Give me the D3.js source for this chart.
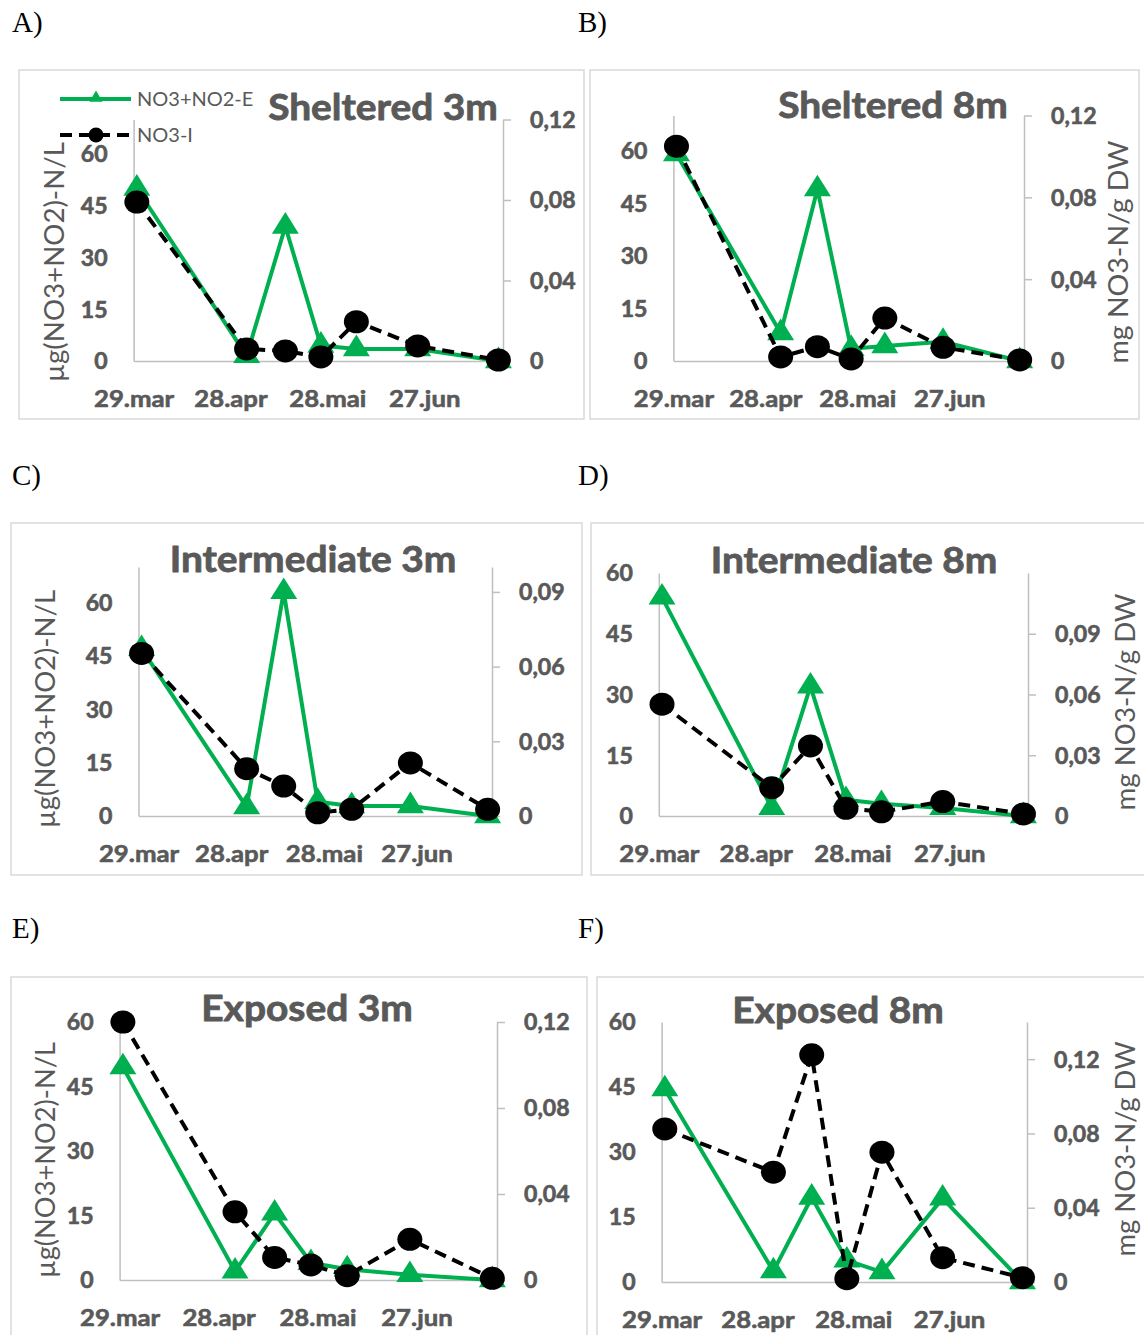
<!DOCTYPE html>
<html>
<head>
<meta charset="utf-8">
<script src="https://cdn.jsdelivr.net/npm/d3@7"></script>
<style>
  body { margin: 0; background: #fff; }
  svg { display: block; }
</style>
</head>
<body>
<svg id="fig" width="1144" height="1335"></svg>
<script>
// Sampling dates shared by all stations
const sampleDates = ["2016-03-30", "2016-05-03", "2016-05-15", "2016-05-26", "2016-06-06", "2016-06-25", "2016-07-20"];
const axisRange = ["2016-03-29T00:00", "2016-07-21T10:00"];
const tickDates = ["2016-03-29", "2016-04-28", "2016-05-28", "2016-06-27"];
const tickLabels = ["29.mar", "28.apr", "28.mai", "27.jun"];

// Series names
const seriesNames = ["NO3+NO2-E", "NO3-I"];
const panelTitles = ["Sheltered 3m", "Sheltered 8m", "Intermediate 3m", "Intermediate 8m", "Exposed 3m", "Exposed 8m"];
const panelLetters = ["A)", "B)", "C)", "D)", "E)", "F)"];
const leftAxisTitle = "µg(NO3+NO2)-N/L";
const rightAxisTitle = "mg NO3-N/g DW";

// NO3+NO2-E, µg N/L (left axis)
const extSheltered3m    = [50, 1.5, 39, 4.5, 3.5, 3.5, 0];
const extSheltered8m    = [59, 8, 49, 3.5, 4.3, 5.5, 0];
const extIntermediate3m = [47, 2.5, 63, 4, 2.8, 2.8, 0];
const extIntermediate8m = [54, 2, 32, 4, 3, 2, 0];
const extExposed3m      = [49.5, 2, 15.5, 4, 2.5, 1.2, 0];
const extExposed8m      = [44.5, 2.5, 19.5, 5, 2.3, 19.3, 0];

// NO3-I, mg NO3-N/g DW (right axis)
const intSheltered3m    = [0.079, 0.006, 0.005, 0.002, 0.0195, 0.0075, 0.0005];
const intSheltered8m    = [0.105, 0.002, 0.007, 0.001, 0.021, 0.0067, 0.0005];
const intIntermediate3m = [0.0653, 0.019, 0.012, 0.0013, 0.0027, 0.0213, 0.0027];
const intIntermediate8m = [0.0552, 0.014, 0.0346, 0.0038, 0.0021, 0.0071, 0.001];
const intExposed3m      = [0.12, 0.0317, 0.0105, 0.007, 0.002, 0.0189, 0.0008];
const intExposed8m      = [0.0824, 0.0591, 0.1223, 0.0018, 0.0699, 0.0131, 0.0023];

// Axis ranges and ticks
const leftTicks = [0, 15, 30, 45, 60];
const leftMaxima = [70, 70, 70, 60, 60, 60];
const rightMaxima = [0.12, 0.12, 0.1, 0.12, 0.12, 0.14];
const rightTicks04 = [0, 0.04, 0.08, 0.12];
const rightTicks03 = [0, 0.03, 0.06, 0.09];

const extSeries = [extSheltered3m, extSheltered8m, extIntermediate3m, extIntermediate8m, extExposed3m, extExposed8m];
const intSeries = [intSheltered3m, intSheltered8m, intIntermediate3m, intIntermediate8m, intExposed3m, intExposed8m];
const rightTickSets = [rightTicks04, rightTicks04, rightTicks03, rightTicks03, rightTicks04, rightTicks04];

// Page layout of the six chart boxes
const layout = [
  { frame: [19, 70, 584, 419],    plot: [133.6, 119.5, 503, 361], titleAt: [383, 120], letterAt: [12, 32],  leftTitle: { x: 64, cy: 262, len: 240 }, legend: true },
  { frame: [590, 70, 1139, 419],  plot: [673.4, 115.5, 1024, 361], titleAt: [893, 118], letterAt: [578, 32], rightTitle: { x: 1128, cy: 252, len: 223 } },
  { frame: [11, 523, 582, 875],   plot: [138.5, 567, 492, 816],   titleAt: [313, 572], letterAt: [12, 485], leftTitle: { x: 54.5, cy: 709, len: 238 } },
  { frame: [591, 523, 1150, 875], plot: [658.8, 573, 1028, 816],  titleAt: [854, 573], letterAt: [578, 485], rightTitle: { x: 1135, cy: 702, len: 217 } },
  { frame: [11, 977, 587, 1345],  plot: [119.6, 1022, 497, 1280], titleAt: [307, 1021], letterAt: [12, 938], leftTitle: { x: 54.5, cy: 1160, len: 236 } },
  { frame: [597, 977, 1150, 1345], plot: [661.6, 1022, 1027, 1282], titleAt: [838, 1023], letterAt: [578, 938], rightTitle: { x: 1135, cy: 1149, len: 215 } }
];

const GREY = "#595959", AXIS = "#bfbfbf", GREEN = "#00b050", FRAME = "#d9d9d9";
const FONT = "Lato, 'Open Sans', sans-serif";
const fmtRight = d => d === 0 ? "0" : d3.format(".2f")(d).replace(".", ",");
const dates = sampleDates.map(d => d3.isoParse(d));
const tri = d3.symbol(d3.symbolTriangle, 270)();
const triSmall = d3.symbol(d3.symbolTriangle, 75)();
const svg = d3.select("#fig");

// heavier bold text, closer to the weight of the axis labels
function heavy(sel, w) {
  return sel.attr("stroke", GREY).attr("stroke-width", w).attr("paint-order", "stroke")
    .attr("stroke-linejoin", "round");
}

function styleAxis(sel) {
  sel.attr("font-family", FONT).attr("font-weight", 700).attr("font-size", 22);
  sel.select(".domain").attr("stroke", AXIS).attr("stroke-width", 1.5);
  sel.selectAll(".tick line").attr("stroke", AXIS).attr("stroke-width", 1.5);
  heavy(sel.selectAll(".tick text").attr("fill", GREY), 0.6);
}

layout.forEach((lay, i) => {
  const g = svg.append("g");
  const [fx0, fy0, fx1, fy1] = lay.frame;
  g.append("rect")
    .attr("x", fx0).attr("y", fy0)
    .attr("width", fx1 - fx0).attr("height", fy1 - fy0)
    .attr("fill", "#fff").attr("stroke", FRAME).attr("stroke-width", 1.5);

  // panel letter
  svg.append("text")
    .attr("x", lay.letterAt[0]).attr("y", lay.letterAt[1])
    .attr("font-family", "'Liberation Serif', 'Times New Roman', serif")
    .attr("font-size", 29).attr("fill", "#000")
    .text(panelLetters[i]);

  const [L, T, R, B] = lay.plot;
  const x = d3.scaleTime().domain(axisRange.map(d => d3.isoParse(d))).range([L, R]);
  const yL = d3.scaleLinear().domain([0, leftMaxima[i]]).range([B, T]);
  const yR = d3.scaleLinear().domain([0, rightMaxima[i]]).range([B, T]);

  // bottom date axis
  const gx = g.append("g").attr("transform", `translate(0,${B})`)
    .call(d3.axisBottom(x).tickValues(tickDates.map(d => d3.isoParse(d)))
      .tickFormat((d, k) => tickLabels[k]).tickSize(0).tickSizeOuter(0));
  styleAxis(gx);
  gx.attr("font-size", 23);
  gx.selectAll(".tick text").attr("y", 46.5).attr("dy", 0).attr("transform", "scale(1.12,1)");

  // left axis
  const gl = g.append("g").attr("transform", `translate(${L},0)`)
    .call(d3.axisLeft(yL).tickValues(leftTicks).tickSize(0).tickSizeOuter(0));
  styleAxis(gl);
  gl.selectAll(".tick text").attr("x", -26 / 1.05).attr("dy", "0.36em").attr("transform", "scale(1.05,1)");

  // right axis
  const gr = g.append("g").attr("transform", `translate(${R},0)`)
    .call(d3.axisRight(yR).tickValues(rightTickSets[i]).tickFormat(fmtRight).tickSize(8).tickSizeOuter(0));
  styleAxis(gr);
  gr.selectAll(".tick text").attr("x", 27 / 1.05).attr("dy", "0.36em").attr("transform", "scale(1.05,1)");

  // NO3+NO2-E on the left axis
  const ext = dates.map((d, k) => ({ d, v: extSeries[i][k] }));
  const intl = dates.map((d, k) => ({ d, v: intSeries[i][k] }));
  g.append("path").datum(ext)
    .attr("d", d3.line().x(p => x(p.d)).y(p => yL(p.v)))
    .attr("fill", "none").attr("stroke", GREEN).attr("stroke-width", 4).attr("stroke-linejoin", "round");
  g.selectAll(".tri").data(ext).join("path").attr("class", "tri")
    .attr("d", tri).attr("fill", GREEN)
    .attr("transform", p => `translate(${x(p.d)},${yL(p.v)}) scale(1.08,1)`);

  // NO3-I on the right axis
  g.append("path").datum(intl)
    .attr("d", d3.line().x(p => x(p.d)).y(p => yR(p.v)))
    .attr("fill", "none").attr("stroke", "#000").attr("stroke-width", 4)
    .attr("stroke-dasharray", "12,7").attr("stroke-linejoin", "round");
  g.selectAll(".dot").data(intl).join("ellipse").attr("class", "dot")
    .attr("cx", p => x(p.d)).attr("cy", p => yR(p.v))
    .attr("rx", 12.5).attr("ry", 11.5).attr("fill", "#000");

  // chart title
  heavy(g.append("text")
    .attr("transform", `translate(${lay.titleAt[0]},${lay.titleAt[1]}) scale(1.08,1)`)
    .attr("text-anchor", "middle").attr("font-family", FONT).attr("font-weight", 700)
    .attr("font-size", 36).attr("fill", GREY), 0.8).text(panelTitles[i]);

  // axis titles
  if (lay.leftTitle) {
    g.append("text")
      .attr("transform", `translate(${lay.leftTitle.x},${lay.leftTitle.cy}) rotate(-90)`)
      .attr("text-anchor", "middle").attr("font-family", FONT).attr("font-size", 26)
      .attr("fill", GREY).attr("textLength", lay.leftTitle.len).attr("lengthAdjust", "spacingAndGlyphs")
      .text(leftAxisTitle);
  }
  if (lay.rightTitle) {
    g.append("text")
      .attr("transform", `translate(${lay.rightTitle.x},${lay.rightTitle.cy}) rotate(-90)`)
      .attr("text-anchor", "middle").attr("font-family", FONT).attr("font-size", 26)
      .attr("fill", GREY).attr("textLength", lay.rightTitle.len).attr("lengthAdjust", "spacingAndGlyphs")
      .text(rightAxisTitle);
  }

  // legend
  if (lay.legend) {
    const lg = g.append("g");
    lg.append("line").attr("x1", 60).attr("x2", 131).attr("y1", 99).attr("y2", 99)
      .attr("stroke", GREEN).attr("stroke-width", 4);
    lg.append("path").attr("d", triSmall).attr("fill", GREEN).attr("transform", "translate(96,98)");
    lg.append("text").attr("x", 137).attr("y", 106).attr("font-family", FONT).attr("font-size", 20)
      .attr("fill", GREY).text(seriesNames[0]);
    lg.append("line").attr("x1", 60).attr("x2", 131).attr("y1", 135).attr("y2", 135)
      .attr("stroke", "#000").attr("stroke-width", 4).attr("stroke-dasharray", "12,7");
    lg.append("circle").attr("cx", 96).attr("cy", 135).attr("r", 7.5).attr("fill", "#000");
    lg.append("text").attr("x", 137).attr("y", 142).attr("font-family", FONT).attr("font-size", 20)
      .attr("fill", GREY).text(seriesNames[1]);
  }
});
</script>
</body>
</html>
